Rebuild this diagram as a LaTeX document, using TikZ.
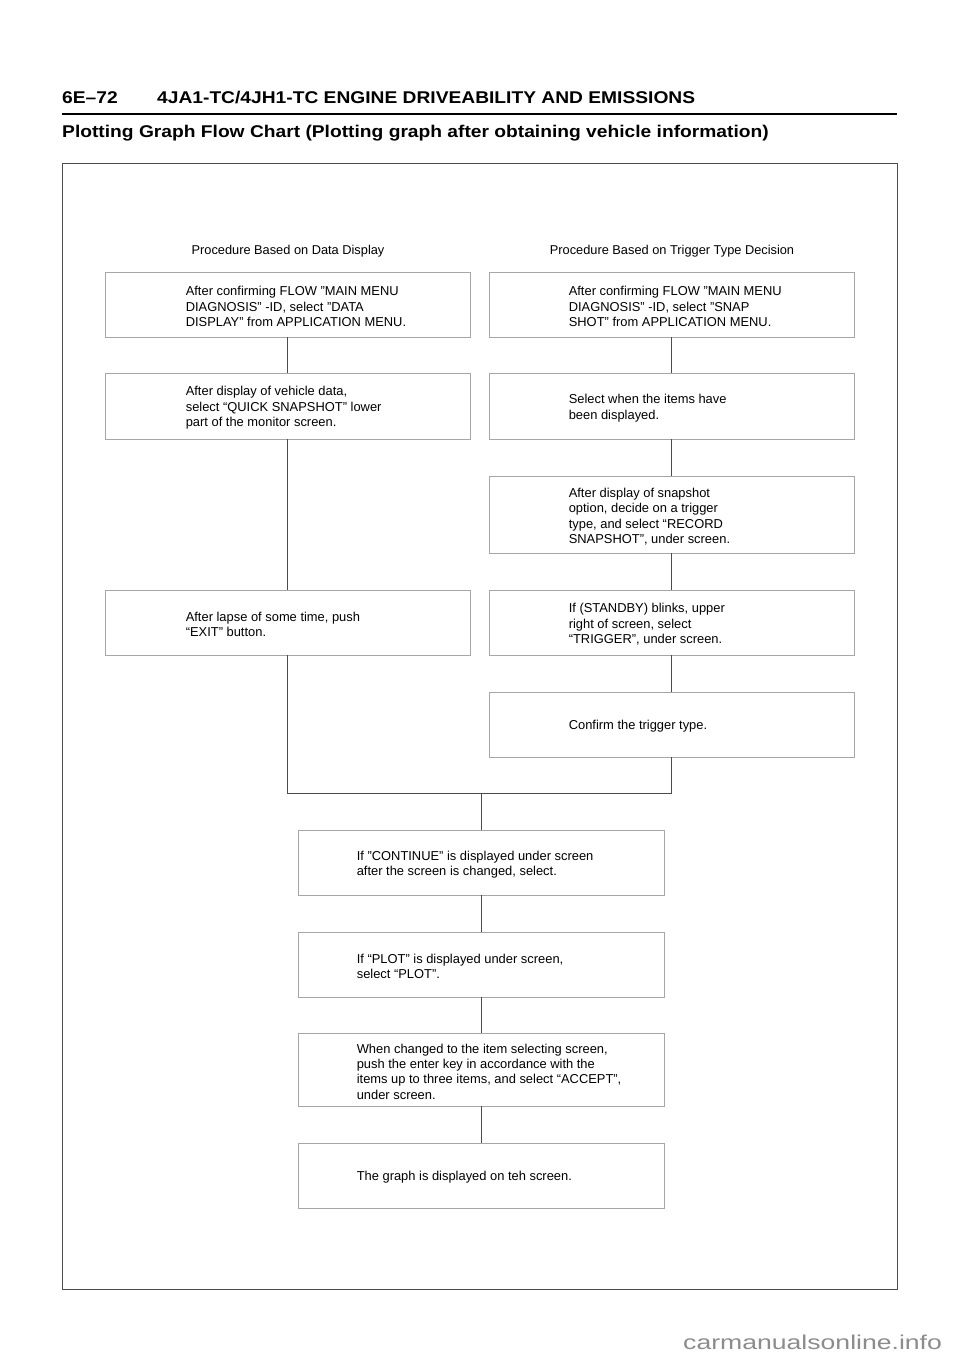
\documentclass[tikz,border=0pt]{standalone}
\usepackage{fontspec}
\setmainfont{Liberation Sans}
\usetikzlibrary{calc}
\definecolor{boxgray}{gray}{0.65}
\definecolor{shadegray}{gray}{0.45}
\definecolor{linegray}{gray}{0.3}
\definecolor{wmgray}{gray}{0.55}
\newcommand{\hx}[1]{\scalebox{1.13}[1]{#1}}
\begin{document}
\begin{tikzpicture}[x=1pt,y=-1pt,
  box/.style={draw=boxgray,line width=0.8pt,fill=white,minimum width=365pt,inner sep=0pt,
    append after command={\pgfextra{\let\bx\tikzlastnode}
      [draw=shadegray,line width=0.9pt] ([xshift=0.5pt]\bx.south west) -- (\bx.south east) -- (\bx.north east)}},
  txt/.style={anchor=west,align=left,inner sep=0pt,yshift=-2pt,font=\fontsize{12.9}{15.4}\selectfont},
  conn/.style={draw=linegray,line width=0.9pt},
  head/.style={anchor=west,inner sep=0pt,font=\fontsize{17}{20}\selectfont\bfseries},
  lab/.style={inner sep=0pt,font=\fontsize{12.8}{15}\selectfont}]
\useasboundingbox[fill=white] (0,0) rectangle (960,1358);

% header
\node[head] (pg) at (62,98) {\hx{6E--72}};
\node[head] (ttl) at (157,98) {\hx{4JA1-TC/4JH1-TC ENGINE DRIVEABILITY AND EMISSIONS}};
\draw[line width=1.6pt] (62,114) -- (897,114);
\node[head] (sub) at (62,133) {\hx{Plotting Graph Flow Chart (Plotting graph after obtaining vehicle information)}};

% frame
\draw[draw=linegray,line width=1pt] (62,163) rectangle (897,1289);

% column labels
\node[lab] (labL) at (288,251) {Procedure Based on Data Display};
\node[lab] (labR) at (672,251) {Procedure Based on Trigger Type Decision};

% left column
\node[box,minimum height=65pt] (L1) at (287.5,304.5) {};
\node[box,minimum height=66pt] (L2) at (287.5,406) {};
\node[box,minimum height=65pt] (L3) at (287.5,622.5) {};
% right column
\node[box,minimum height=65pt] (R1) at (671.5,304.5) {};
\node[box,minimum height=66pt] (R2) at (671.5,406) {};
\node[box,minimum height=77pt] (R3) at (671.5,514.5) {};
\node[box,minimum height=65pt] (R4) at (671.5,622.5) {};
\node[box,minimum height=65pt] (R5) at (671.5,724.5) {};
% center column
\node[box,minimum width=366pt,minimum height=65pt] (C1) at (481,862.5) {};
\node[box,minimum width=366pt,minimum height=65pt] (C2) at (481,964.5) {};
\node[box,minimum width=366pt,minimum height=73pt] (C3) at (481,1069.5) {};
\node[box,minimum width=366pt,minimum height=65pt] (C4) at (481,1175.5) {};

% texts
\node[txt] (L1t) at ([xshift=81pt]L1.west) {After confirming FLOW "MAIN MENU\\DIAGNOSIS" -ID, select "DATA\\DISPLAY" from APPLICATION MENU.};
\node[txt] (L2t) at ([xshift=81pt]L2.west) {After display of vehicle data,\\select “QUICK SNAPSHOT" lower\\part of the monitor screen.};
\node[txt] (L3t) at ([xshift=81pt]L3.west) {After lapse of some time, push\\“EXIT" button.};
\node[txt] (R1t) at ([xshift=80pt]R1.west) {After confirming FLOW "MAIN MENU\\DIAGNOSIS" -ID, select "SNAP\\SHOT" from APPLICATION MENU.};
\node[txt] (R2t) at ([xshift=80pt]R2.west) {Select when the items have\\been displayed.};
\node[txt] (R3t) at ([xshift=80pt]R3.west) {After display of snapshot\\option, decide on a trigger\\type, and select “RECORD\\SNAPSHOT”, under screen.};
\node[txt] (R4t) at ([xshift=80pt]R4.west) {If (STANDBY) blinks, upper\\right of screen, select\\“TRIGGER”, under screen.};
\node[txt] (R5t) at ([xshift=80pt]R5.west) {Confirm the trigger type.};
\node[txt] (C1t) at ([xshift=59pt]C1.west) {If "CONTINUE" is displayed under screen\\after the screen is changed, select.};
\node[txt] (C2t) at ([xshift=59pt]C2.west) {If “PLOT" is displayed under screen,\\select “PLOT”.};
\node[txt] (C3t) at ([xshift=59pt]C3.west) {When changed to the item selecting screen,\\push the enter key in accordance with the\\items up to three items, and select “ACCEPT",\\under screen.};
\node[txt] (C4t) at ([xshift=59pt]C4.west) {The graph is displayed on teh screen.};

% connectors
\coordinate (m) at (481,793);
\draw[conn] (L1.south) -- (L2.north);
\draw[conn] (L2.south) -- (L3.north);
\draw[conn] (L3.south) |- (m);
\draw[conn] (R1.south) -- (R2.north);
\draw[conn] (R2.south) -- (R3.north);
\draw[conn] (R3.south) -- (R4.north);
\draw[conn] (R4.south) -- (R5.north);
\draw[conn] (R5.south) |- (m);
\draw[conn] (m) -- (C1.north);
\draw[conn] (C1.south) -- (C2.north);
\draw[conn] (C2.south) -- (C3.north);
\draw[conn] (C3.south) -- (C4.north);

% watermark
\node[anchor=west,inner sep=0pt,text=wmgray,font=\fontsize{20}{22}\selectfont] (wm) at (683,1342) {\scalebox{1.33}[1]{carmanualsonline.info}};
\end{tikzpicture}
\end{document}
